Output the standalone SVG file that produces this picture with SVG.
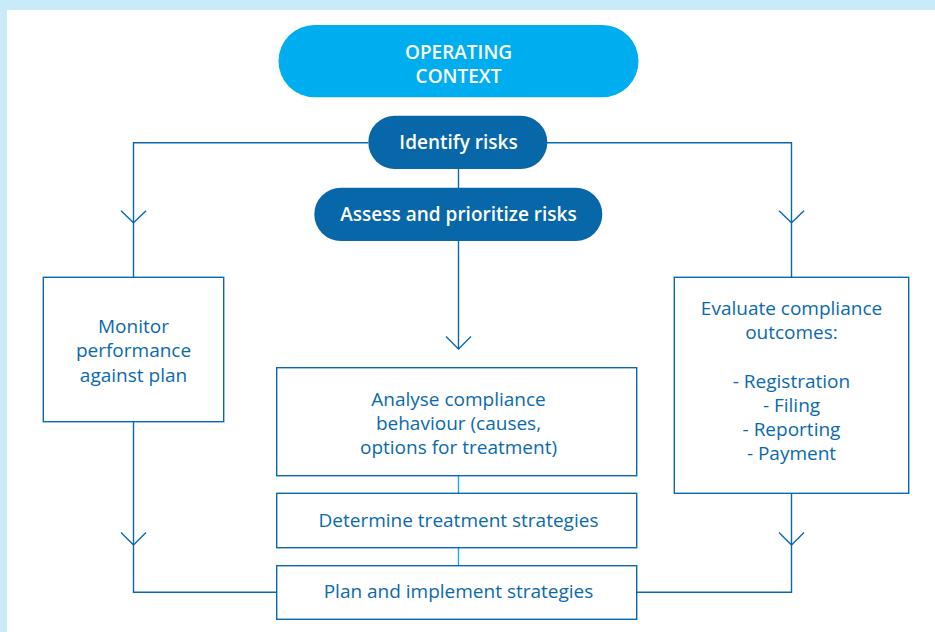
<svg xmlns="http://www.w3.org/2000/svg" width="935" height="632" viewBox="0 0 935 632">
<style>
.bg{fill:#c8eaf9}
.box{fill:#ffffff;stroke:#0a69ad;stroke-width:1.4}
.pill{fill:#0867a9}
.pillc{fill:#00aeef}
.ln{fill:none;stroke:#0a69ad;stroke-width:1.4}
.lnc{fill:none;stroke:#22a8e0;stroke-width:1.4}
.t{font-family:"Open Sans","Noto Sans","Liberation Sans",sans-serif;font-size:19px;fill:#0a69ad;text-anchor:middle}
.tw{font-family:"Open Sans","Noto Sans","Liberation Sans",sans-serif;font-size:19px;font-weight:600;fill:#ffffff;text-anchor:middle}
</style>
<rect x="0" y="0" width="935" height="632" fill="#ffffff"/>
<rect class="bg" x="0" y="0" width="935" height="10"/>
<rect class="bg" x="0" y="0" width="7" height="632"/>
<g id="connectors">
<path class="ln" d="M368,142.7 H133.5 V277.3"/>
<path class="ln" d="M121,210.7 L133.5,222.7 L146,210.7"/>
<path class="ln" d="M547,142.7 H791.5 V277.3"/>
<path class="ln" d="M779,210.7 L791.5,222.7 L804,210.7"/>
<path class="ln" d="M458.5,169 V188"/>
<path class="ln" d="M458.5,241 V349"/>
<path class="ln" d="M446,336.5 L458.5,349 L471,336.5"/>
<path class="lnc" d="M458.5,475.7 V493.3"/>
<path class="lnc" d="M458.5,547.7 V565.7"/>
<path class="ln" d="M133.5,421.7 V592.3 H276.7"/>
<path class="ln" d="M121,532.5 L133.5,545 L146,532.5"/>
<path class="ln" d="M791.5,493.3 V592.3 H636.5"/>
<path class="ln" d="M779,532.5 L791.5,545 L804,532.5"/>
</g>
<g id="operating-context">
<rect class="pillc" x="278.5" y="25" width="360" height="72.3" rx="36" ry="36"/>
<text class="tw" x="458.5" y="59">OPERATING</text>
<text class="tw" x="458.5" y="82.5">CONTEXT</text>
</g>
<g id="identify-risks">
<rect class="pill" x="368.3" y="115.7" width="179" height="53.3" rx="26.6" ry="26.6"/>
<text class="tw" x="458.5" y="149">Identify risks</text>
</g>
<g id="assess-risks">
<rect class="pill" x="314.3" y="187.7" width="288" height="53.3" rx="26.6" ry="26.6"/>
<text class="tw" x="458.5" y="220.5">Assess and prioritize risks</text>
</g>
<g id="monitor">
<rect class="box" x="43.3" y="277.3" width="180.4" height="144.4"/>
<text class="t" x="133.5" y="333">Monitor</text>
<text class="t" x="133.5" y="357">performance</text>
<text class="t" x="133.5" y="381.5">against plan</text>
</g>
<g id="evaluate">
<rect class="box" x="674.3" y="277.3" width="234.4" height="216"/>
<text class="t" x="791.5" y="315">Evaluate compliance</text>
<text class="t" x="791.5" y="339.3">outcomes:</text>
<text class="t" x="791.5" y="387.7">- Registration</text>
<text class="t" x="791.5" y="412">- Filing</text>
<text class="t" x="791.5" y="436">- Reporting</text>
<text class="t" x="791.5" y="460">- Payment</text>
</g>
<g id="analyse">
<rect class="box" x="276.7" y="367.7" width="360" height="108"/>
<text class="t" x="458.5" y="406">Analyse compliance</text>
<text class="t" x="458.5" y="430">behaviour (causes,</text>
<text class="t" x="458.5" y="454.3">options for treatment)</text>
</g>
<g id="determine">
<rect class="box" x="276.7" y="493.3" width="360" height="54.4"/>
<text class="t" x="458.5" y="526.5">Determine treatment strategies</text>
</g>
<g id="plan">
<rect class="box" x="276.7" y="565.7" width="360" height="53.6"/>
<text class="t" x="458.5" y="597.7">Plan and implement strategies</text>
</g>
</svg>
